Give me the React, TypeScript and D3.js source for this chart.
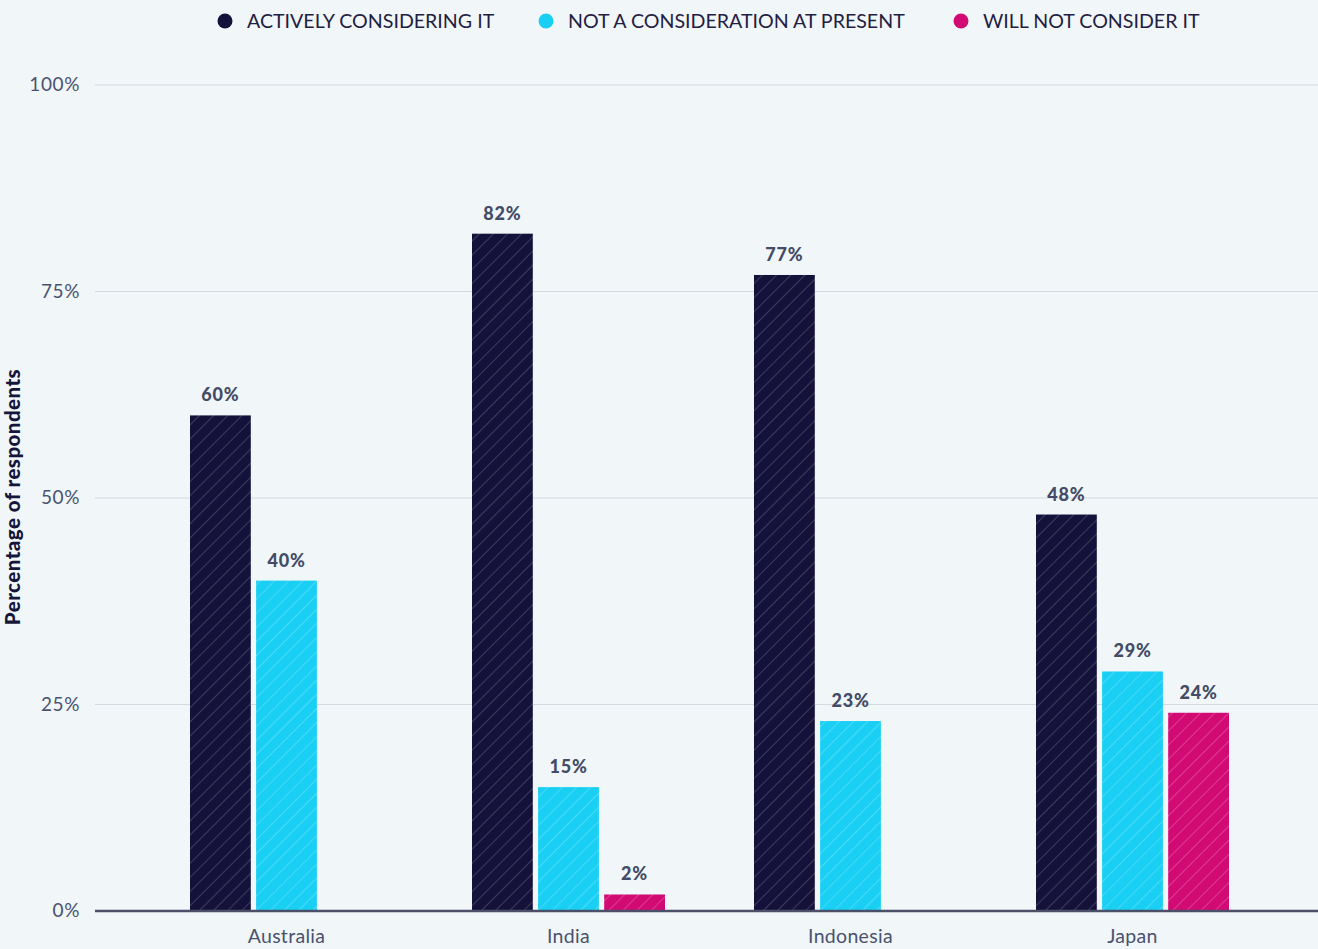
import React from "react";
import * as d3 from "d3";

const categories = ["Australia", "India", "Indonesia", "Japan"];
const seriesNames = ["ACTIVELY CONSIDERING IT", "NOT A CONSIDERATION AT PRESENT", "WILL NOT CONSIDER IT"];
const activelyConsidering = [60, 82, 77, 48];
const notAConsideration = [40, 15, 23, 29];
const willNotConsider: (number | null)[] = [null, 2, null, 24];
const yTicks = [0, 25, 50, 75, 100];
const colors = ["#14123b", "#19d0f4", "#d20a74"];

const W = 1318;
const H = 949;

export default function App() {
  const series = [activelyConsidering, notAConsideration, willNotConsider];
  const y = d3.scaleLinear().domain([0, 100]).range([911, 85]);
  const x0 = d3.scaleBand<string>().domain(categories).range([101, 1318]).paddingInner(0.3156).paddingOuter(0.3156);
  const x1 = d3.scaleBand<number>().domain([0, 1, 2]).range([0, x0.bandwidth()]).paddingInner(0.08).paddingOuter(0);
  const legendX = [225, 546, 961];
  const tickFont = "Lato, 'Open Sans', sans-serif";

  return (
    <svg
      width={W}
      height={H}
      style={{ position: "absolute", left: 0, top: 0, background: "#f1f6f8", display: "block" }}
    >
      <defs>
        {colors.map((c, i) => (
          <pattern
            key={i}
            id={`hatch${i}`}
            patternUnits="userSpaceOnUse"
            width={10}
            height={10}
            patternTransform="rotate(45)"
          >
            <rect width={10} height={10} fill={c} />
            <line x1={0} y1={0} x2={0} y2={10} stroke="#ffffff" strokeOpacity={i === 0 ? 0.25 : 0.3} strokeWidth={1.4} />
          </pattern>
        ))}
      </defs>

      {/* legend */}
      {seriesNames.map((s, i) => (
        <g key={s}>
          <circle cx={legendX[i]} cy={21} r={7.5} fill={colors[i]} />
          <text x={legendX[i] + 22} y={28} fontFamily={tickFont} fontSize={19.6} fill="#1f2042">
            {s}
          </text>
        </g>
      ))}

      {/* gridlines */}
      {yTicks.map((t) => (
        <g key={t}>
          {t !== 0 && <line x1={95} x2={1318} y1={y(t)} y2={y(t)} stroke="#d3d9de" strokeWidth={1} />}
          <text
            x={80}
            y={y(t) + 6}
            textAnchor="end"
            fontFamily={tickFont}
            fontSize={19}
            fill="#4a5270"
            letterSpacing={0.6}
          >
            {t}%
          </text>
        </g>
      ))}

      {/* bars */}
      {categories.map((c, ci) => (
        <g key={c} transform={`translate(${x0(c)},0)`}>
          {series.map((arr, si) => {
            const v = arr[ci];
            if (v === null || v === undefined) return null;
            const bx = x1(si)!;
            const bw = x1.bandwidth();
            return (
              <g key={si}>
                <rect x={bx} y={y(v)} width={bw} height={y(0) - y(v)} fill={`url(#hatch${si})`} />
                <text
                  x={bx + bw / 2}
                  y={y(v) - 14}
                  textAnchor="middle"
                  fontFamily={tickFont}
                  fontWeight={900}
                  fontSize={18}
                  letterSpacing={0.8}
                  fill="#434b66"
                >
                  {v}%
                </text>
              </g>
            );
          })}
          <text
            x={x0.bandwidth() / 2}
            y={943}
            textAnchor="middle"
            fontFamily={tickFont}
            fontSize={19.5}
            letterSpacing={0.3}
            fill="#4a5270"
          >
            {c}
          </text>
        </g>
      ))}

      {/* baseline */}
      <line x1={95} x2={1318} y1={y(0)} y2={y(0)} stroke="#4b5068" strokeWidth={2.5} />

      {/* y title */}
      <text
        transform={`translate(20,497) rotate(-90)`}
        textAnchor="middle"
        fontFamily={tickFont}
        fontWeight={900}
        fontSize={20.5}
        letterSpacing={0.45}
        fill="#15163a"
      >
        Percentage of respondents
      </text>
    </svg>
  );
}
